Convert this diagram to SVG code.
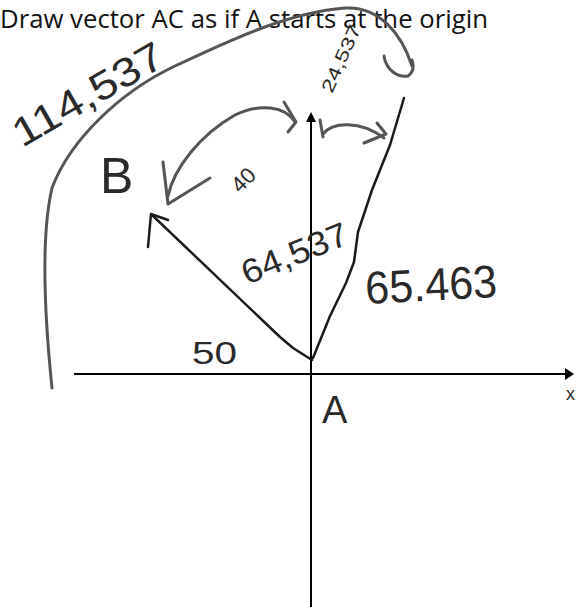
<svg xmlns="http://www.w3.org/2000/svg" width="578" height="607" viewBox="0 0 578 607">
<style>
.title{font-family:"Open Sans","Liberation Sans",sans-serif;font-size:26px;fill:#111}
.hand{font-family:"Liberation Sans","DejaVu Sans",sans-serif;fill:#2a2a2a}
.axis{stroke:#000;stroke-width:2;fill:none}
.ink{stroke:#1a1a1a;stroke-width:2.5;fill:none;stroke-linecap:round;stroke-linejoin:round}
.pencil{stroke:#555;stroke-width:3;fill:none;stroke-linecap:round;stroke-linejoin:round}
</style>
<rect width="578" height="607" fill="#fff"/>
<text class="title" x="0" y="28" textLength="488" lengthAdjust="spacingAndGlyphs">Draw vector AC as if A starts at the origin</text>

<g id="axes">
  <line class="axis" x1="74" y1="374" x2="566" y2="374"/>
  <polygon points="574,374 565,368 565,380" fill="#000"/>
  <line class="axis" x1="311" y1="121" x2="311" y2="607"/>
  <polygon points="311,112 306,122 316,122" fill="#000"/>
  <text class="hand" x="566" y="400" font-size="18" fill="#000">x</text>
</g>

<g id="connectors">
  <g id="vectorAB">
    <path class="ink" d="M 312,360 L 293,348 L 280,337 L 152,215"/>
    <path class="ink" d="M 148,247 L 151,214 L 168,220"/>
  </g>
  <g id="vectorAC">
    <path class="ink" d="M 313,358 L 330,316 L 346,283 L 354,262 L 358,232 L 372,190 L 390,145 L 404,98"/>
  </g>
  <g id="arc114">
    <path class="pencil" d="M 52,388 C 45,320 40,240 52,188 C 70,140 120,92 175,66 C 230,40 290,12 345,8 C 380,6 402,35 412,66"/>
    <path class="pencil" d="M 384,56 C 386,70 398,78 408,76 C 414,72 414,66 412,60"/>
  </g>
  <g id="arc40">
    <path class="pencil" d="M 168,196 C 174,168 200,135 235,115 C 260,103 285,106 295,122"/>
    <path class="pencil" d="M 284,102 L 296,122 L 288,132"/>
    <path class="pencil" d="M 163,162 L 168,204 L 210,178"/>
  </g>
  <g id="arc24">
    <path class="pencil" d="M 323,134 C 332,122 360,120 384,138"/>
    <path class="pencil" d="M 377,123 L 386,134 L 364,143"/>
    <path class="pencil" d="M 320,120 L 323,137"/>
  </g>
</g>

<g id="node-B"><text class="hand" x="100" y="193" font-size="50">B</text></g>
<g id="node-A"><text class="hand" x="322" y="423" font-size="38">A</text></g>
<g id="label-114"><text class="hand" font-size="40" transform="translate(22,148) rotate(-30)" textLength="168" lengthAdjust="spacingAndGlyphs">114,537</text></g>
<g id="label-24"><text class="hand" font-size="18" fill="#555" transform="translate(332,94) rotate(-66)" textLength="72" lengthAdjust="spacingAndGlyphs">24,537</text></g>
<g id="label-40"><text class="hand" font-size="22" transform="translate(240,194) rotate(-45)">40</text></g>
<g id="label-64"><text class="hand" font-size="34" transform="translate(247,285) rotate(-22)" textLength="112" lengthAdjust="spacingAndGlyphs">64,537</text></g>
<g id="label-65"><text class="hand" font-size="46" transform="translate(366,304) rotate(-3)" textLength="132" lengthAdjust="spacingAndGlyphs">65.463</text></g>
<g id="label-50"><text class="hand" x="192" y="364" font-size="32" textLength="45" lengthAdjust="spacingAndGlyphs">50</text></g>
</svg>
